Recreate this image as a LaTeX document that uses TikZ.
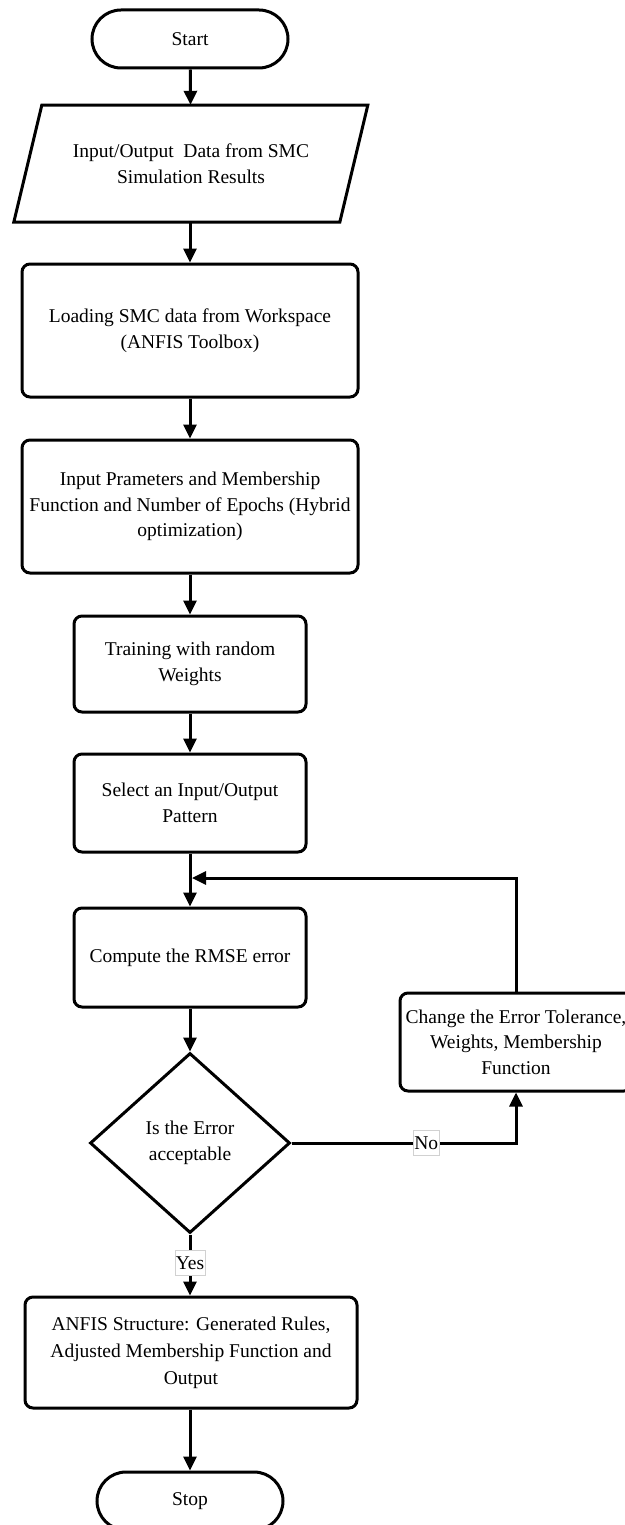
\documentclass[tikz,border=0pt]{standalone}
\usepackage{fontspec}
\setmainfont{Liberation Serif}
\usetikzlibrary{arrows.meta,shapes.geometric}
\begin{document}
\begin{tikzpicture}[x=1pt,y=-1pt,
  every node/.style={font=\fontsize{19.5}{25.5}\selectfont},
  box/.style={draw,line width=3pt,rounded corners=8pt,align=center,inner sep=0pt},
  term/.style={draw,line width=3pt,rounded corners=29pt,minimum width=#1,minimum height=58pt,inner sep=0pt},
  decision/.style={draw,diamond,line width=3pt,minimum width=200pt,minimum height=180pt,inner sep=0pt,align=center},
  arr/.style={line width=3pt,-{Triangle[length=14pt,width=13pt]}},
  lbl/.style={draw=black!18,line width=0.6pt,fill=white,inner xsep=1pt,inner ysep=0pt,minimum height=25pt}
]
% canvas
\fill[white] (0,0) rectangle (624,1525);
\useasboundingbox (0,0) rectangle (624,1525);

% main column
\node[term=196pt] (start) at (190,39) {Start};
\node[minimum width=326pt,minimum height=117pt,inner sep=0pt,align=center] (io) at (191,163.5)
  {Input/Output\ \ Data from SMC\\Simulation Results};
\draw[line width=3pt,line join=miter] (io.south west) ++(-14,0) -- ++(326,0) -- ++(28,-117) -- ++(-326,0) -- cycle;
\node[box,minimum width=336pt,minimum height=133pt] (load) at (190,330.5)
  {Loading SMC data from Workspace\\(ANFIS Toolbox)};
\node[box,minimum width=336pt,minimum height=133pt] (param) at (190,506.5)
  {Input Prameters and Membership\\Function and Number of Epochs (Hybrid\\optimization)};
\node[box,minimum width=232pt,minimum height=96pt] (train) at (190,664)
  {Training with random\\Weights};
\node[box,minimum width=232pt,minimum height=98pt] (select) at (190,803)
  {Select an Input/Output\\Pattern};
\node[box,minimum width=232pt,minimum height=99pt] (rmse) at (190,957.5)
  {Compute the RMSE error};
\node[decision] (dec) at (190,1143) {Is the Error\\acceptable};
\node[box,minimum width=232pt,minimum height=98pt] (change) at (516,1042)
  {Change the Error Tolerance,\\Weights, Membership\\Function};
\node[box,minimum width=332pt,minimum height=111pt,font=\fontsize{19.5}{27}\selectfont] (anfis) at (191,1352.5)
  {ANFIS Structure: Generated Rules,\\Adjusted Membership Function and\\Output};
\node[term=186pt] (stop) at (190,1501) {Stop};

\coordinate (merge) at (192,878);

% connectors
\draw[arr] (start) -- (io);
\draw[arr] (io.south -| load) -- (load);
\draw[arr] (load) -- (param);
\draw[arr] (param) -- (train);
\draw[arr] (train) -- (select);
\draw[line width=3pt] (select.south) -- (select.south |- merge);
\draw[arr] (select.south |- merge) -- (rmse);
\draw[arr] (rmse) -- (dec);
\draw[arr] (dec.east) -- node[lbl,pos=0.6] {No} (dec.east -| change.south) -- (change.south);
\draw[arr] (change.north) |- (merge);
\draw[arr] (dec.south) -- node[lbl,pos=0.47] {Yes} (anfis.north -| dec.south);
\draw[arr] (anfis.south -| stop) -- (stop);
\end{tikzpicture}
\end{document}
